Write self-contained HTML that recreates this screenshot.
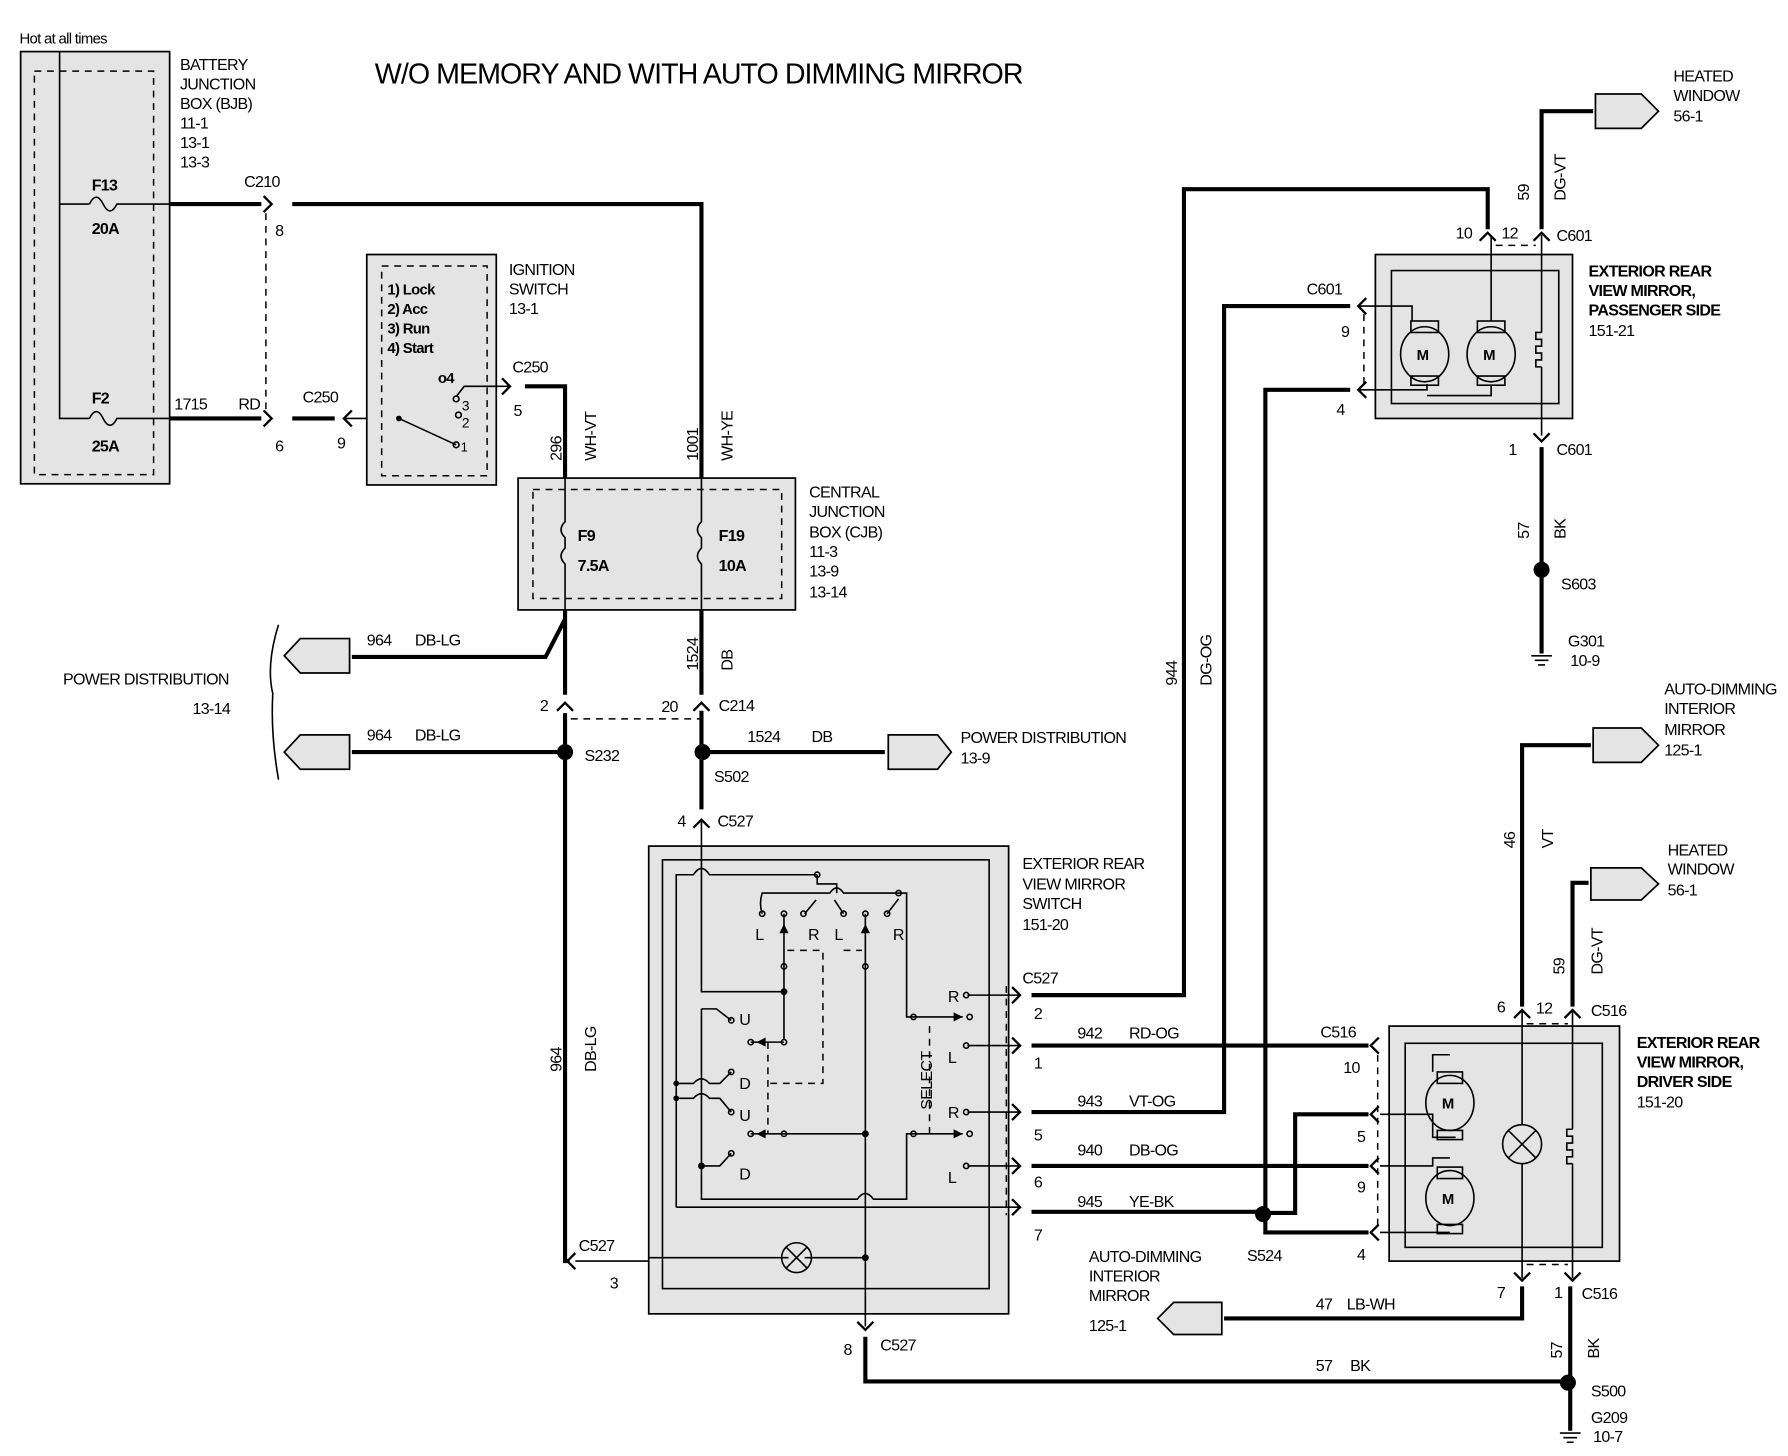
<!DOCTYPE html>
<html><head><meta charset="utf-8"><style>
html,body{margin:0;padding:0;background:#fff}
svg{display:block}
text{font-family:"Liberation Sans Narrow","Liberation Sans",sans-serif;font-size:14px;fill:#000;letter-spacing:-0.6px}
.b{font-weight:bold}
.tk{stroke:#000;stroke-width:3.6;fill:none}
.tn{stroke:#000;stroke-width:1.4;fill:none}
.ds{stroke:#000;stroke-width:1.3;fill:none;stroke-dasharray:6 5}
.gb{fill:#e4e4e4;stroke:#000;stroke-width:1.5}
.ar{stroke:#000;stroke-width:2;fill:none}
</style></head><body>
<svg width="1788" height="1456" viewBox="0 0 1560 1270" preserveAspectRatio="none" xmlns="http://www.w3.org/2000/svg">
<rect width="1560" height="1270" fill="#fff"/>
<text x="17" y="38" style="font-size:13px">Hot at all times</text>
<text x="327" y="73" style="font-size:25px;letter-spacing:0" textLength="566">W/O MEMORY AND WITH AUTO DIMMING MIRROR</text>

<!-- BJB -->
<rect class="gb" x="18" y="45" width="130" height="377"/>
<rect class="ds" x="30" y="62" width="104" height="352"/>
<path class="tn" d="M52 45 V365 H78 M52 178 H78"/>
<path class="tn" d="M78 178 q6 -12 12 0 q6 12 12 0 H148 M78 365 q6 -12 12 0 q6 12 12 0 H148"/>
<text x="80" y="166" class="b">F13</text><text x="80" y="204" class="b">20A</text>
<text x="80" y="352" class="b">F2</text><text x="80" y="394" class="b">25A</text>
<text x="157" y="61">BATTERY</text><text x="157" y="78">JUNCTION</text><text x="157" y="95">BOX (BJB)</text>
<text x="157" y="112">11-1</text><text x="157" y="129">13-1</text><text x="157" y="146">13-3</text>

<!-- F13 wire -->
<path class="tk" d="M148 178 H228 M255 178 H612 V417"/>
<path class="ar" d="M230 171 L237 178 L230 185"/>
<text x="213" y="163">C210</text><text x="240" y="206">8</text>
<path class="ds" d="M232 186 V358"/>
<!-- F2 wire -->
<path class="tk" d="M148 365 H228 M255 365 H292"/>
<path class="ar" d="M230 358 L237 365 L230 372 M307 358 L300 365 L307 372"/>
<path class="tn" d="M300 365 H348"/>
<text x="152" y="357">1715</text><text x="208" y="357">RD</text><text x="240" y="394">6</text>
<text x="264" y="351">C250</text><text x="294" y="391">9</text>

<!-- Ignition switch -->
<rect class="gb" x="320" y="222" width="113" height="201"/>
<rect class="ds" x="333" y="232" width="92" height="183"/>
<text x="338" y="257" class="b" style="font-size:13px">1) Lock</text>
<text x="338" y="274" class="b" style="font-size:13px">2) Acc</text>
<text x="338" y="291" class="b" style="font-size:13px">3) Run</text>
<text x="338" y="308" class="b" style="font-size:13px">4) Start</text>
<text x="382" y="334" class="b" style="font-size:13px">o4</text>
<circle cx="348" cy="365" r="2.5" fill="#000"/>
<path class="tn" d="M348 365 L398 388"/>
<circle cx="398" cy="348" r="2.5" class="tn"/><circle cx="400" cy="362" r="2.5" class="tn"/><circle cx="398" cy="388" r="2.5" class="tn"/>
<path class="tn" d="M398 346 L405 337 H445"/>
<text x="403" y="373" style="font-size:12px">2</text><text x="403" y="358" style="font-size:12px">3</text><text x="402" y="394" style="font-size:11px">1</text>
<path class="ar" d="M438 330 L445 337 L438 344"/>
<path class="tk" d="M458 337 H493 V417"/>
<text x="444" y="240">IGNITION</text><text x="444" y="257">SWITCH</text><text x="444" y="274">13-1</text>
<text x="447" y="325">C250</text><text x="448" y="363">5</text>
<text transform="translate(490,402) rotate(-90)">296</text>
<text transform="translate(520,402) rotate(-90)">WH-VT</text>
<text transform="translate(609,402) rotate(-90)">1001</text>
<text transform="translate(639,402) rotate(-90)">WH-YE</text>

<!-- CJB -->
<rect class="gb" x="452" y="417" width="242" height="115"/>
<rect class="ds" x="465" y="427" width="217" height="95"/>
<path class="tn" d="M493 417 V455 q-7 7 0 14 V478 q-7 7 0 14 V532 M612 417 V455 q-7 7 0 14 V478 q-7 7 0 14 V532"/>
<text x="504" y="472" class="b">F9</text><text x="504" y="498" class="b">7.5A</text>
<text x="627" y="472" class="b">F19</text><text x="627" y="498" class="b">10A</text>
<text x="706" y="434">CENTRAL</text><text x="706" y="451">JUNCTION</text><text x="706" y="469">BOX (CJB)</text>
<text x="706" y="486">11-3</text><text x="706" y="503">13-9</text><text x="706" y="521">13-14</text>

<!-- below CJB -->
<path class="tk" d="M493 532 V606 M493 540 L476 573 H307"/>
<path class="tn" d="M305 573 H298"/>
<polygon class="gb" points="248,572 262,557 305,557 305,587 262,587"/>
<text x="320" y="563">964</text><text x="362" y="563">DB-LG</text>
<polygon class="gb" points="248,656 262,641 305,641 305,671 262,671"/>
<text x="320" y="646">964</text><text x="362" y="646">DB-LG</text>
<text x="55" y="597">POWER DISTRIBUTION</text><text x="168" y="623">13-14</text>
<path class="tn" d="M243 545 Q232 580 238 605 Q236 640 243 680"/>
<path class="ar" d="M486 620 L493 613 L500 620 M605 620 L612 613 L619 620"/>
<path class="ds" d="M498 627 H612"/>
<text x="471" y="620">2</text><text x="577" y="621">20</text><text x="627" y="620">C214</text>
<path class="tk" d="M493 622 V1100 H497 M307 656 H493"/>
<circle cx="493" cy="656" r="7" fill="#000"/>
<text x="510" y="664">S232</text>
<text transform="translate(490,935) rotate(-90)">964</text>
<text transform="translate(520,935) rotate(-90)">DB-LG</text>
<path class="tk" d="M612 532 V606 M612 620 V706 M612 656 H772"/>
<circle cx="613" cy="656" r="7" fill="#000"/>
<polygon class="gb" points="775,641 818,641 830,656 818,671 775,671"/>
<text x="652" y="647">1524</text><text x="708" y="647">DB</text><text x="623" y="682">S502</text>
<text transform="translate(609,585) rotate(-90)">1524</text>
<text transform="translate(639,585) rotate(-90)">DB</text>
<text x="838" y="648">POWER DISTRIBUTION</text><text x="838" y="666">13-9</text>
<path class="ar" d="M605 722 L612 715 L619 722"/>
<text x="591" y="721">4</text><text x="626" y="721">C527</text>

<!-- Mirror switch -->
<rect class="gb" x="566" y="738" width="314" height="408"/>
<rect class="tn" x="578" y="750" width="285" height="374"/>
<text x="892" y="758">EXTERIOR REAR</text><text x="892" y="776">VIEW MIRROR</text><text x="892" y="793">SWITCH</text><text x="892" y="811">151-20</text>
<g class="tn">
<path d="M612 715 V865 H684"/>
<path d="M590 1053 V763 H605 Q612 752 619 763 H713"/>
<path d="M713 763 V771 H730 V779 M665 797 Q662 788 665 779 H724 Q730 770 736 779 H791 V887 H797"/>
<path d="M612 880 V1046 H748 Q755 1036 762 1046 H791 V989 H797"/>
<path d="M684 797 V907"/>
<path d="M755 797 V1157"/>
<path d="M655 909 H684 M655 989 H755"/>
<path d="M612 880 H625 L638 890"/>
<path d="M590 945 H605 Q612 937 619 945 H628 L638 935"/>
<path d="M590 958 H605 Q612 950 619 958 H628 L638 970"/>
<path d="M612 1017 H628 L638 1006"/>
<path d="M702 797 L712 785 M736 797 L728 785 M774 797 L784 784"/>
<path d="M797 887 H840 M797 989 H840"/>
<path d="M844 868 H890 M844 912 H890 M844 970 H890 M844 1017 H890 M590 1053 H890"/>
<path d="M566 1097 H688 M702 1097 H755"/>
<circle cx="695" cy="1097" r="13"/>
<path d="M686 1088 L704 1106 M704 1088 L686 1106"/>
<circle cx="665" cy="797" r="2.3"/><circle cx="684" cy="797" r="2.3"/><circle cx="701" cy="797" r="2.3"/>
<circle cx="736" cy="797" r="2.3"/><circle cx="755" cy="797" r="2.3"/><circle cx="774" cy="797" r="2.3"/>
<circle cx="713" cy="763" r="2.3"/><circle cx="784" cy="779" r="2.3"/>
<circle cx="684" cy="843" r="2.3"/><circle cx="755" cy="843" r="2.3"/><circle cx="684" cy="909" r="2.3"/><circle cx="684" cy="989" r="2.3"/>
<circle cx="638" cy="890" r="2.3"/><circle cx="638" cy="935" r="2.3"/><circle cx="638" cy="970" r="2.3"/><circle cx="638" cy="1006" r="2.3"/>
<circle cx="797" cy="887" r="2.3"/><circle cx="797" cy="989" r="2.3"/>
<circle cx="843" cy="868" r="2.3"/><circle cx="843" cy="912" r="2.3"/><circle cx="843" cy="970" r="2.3"/><circle cx="843" cy="1017" r="2.3"/>
<circle cx="846" cy="887" r="2.3"/><circle cx="846" cy="989" r="2.3"/>
<circle cx="655" cy="909" r="2.3"/><circle cx="655" cy="989" r="2.3"/>
</g>
<g fill="#000">
<circle cx="684" cy="865" r="3"/><circle cx="755" cy="989" r="3"/><circle cx="755" cy="1097" r="3"/>
<circle cx="590" cy="945" r="2.5"/><circle cx="590" cy="958" r="2.5"/><circle cx="612" cy="1017" r="3"/>
<polygon points="684,806 680,814 688,814"/><polygon points="755,806 751,814 759,814"/>
<polygon points="832,883 840,887 832,891"/><polygon points="832,985 840,989 832,993"/>
<polygon points="668,905 660,909 668,913"/><polygon points="668,985 660,989 668,993"/>
</g>
<path class="ds" d="M687 829 H718 V945 H670 M670 909 V989 M736 829 H752 M811 895 V989 M878 860 V1060"/>
<text x="659" y="820">L</text><text x="705" y="820">R</text><text x="728" y="820">L</text><text x="779" y="820">R</text>
<text x="645" y="894">U</text><text x="645" y="950">D</text><text x="645" y="978">U</text><text x="645" y="1029">D</text>
<text x="827" y="874">R</text><text x="827" y="927">L</text><text x="827" y="975">R</text><text x="827" y="1032">L</text>
<text transform="translate(813,968) rotate(-90)">SELECT</text>
<path class="ar" d="M883 861 L890 868 L883 875 M883 905 L890 912 L883 919 M883 963 L890 970 L883 977 M883 1010 L890 1017 L883 1024 M883 1046 L890 1053 L883 1060"/>
<text x="892" y="858">C527</text><text x="902" y="889">2</text><text x="902" y="932">1</text><text x="902" y="995">5</text><text x="902" y="1036">6</text><text x="902" y="1082">7</text>
<path class="ar" d="M502 1093 L495 1100 L502 1107"/>
<path class="tn" d="M502 1100 H566"/>
<text x="505" y="1091">C527</text><text x="532" y="1124">3</text>
<path class="ar" d="M748 1153 L755 1160 L762 1153"/>
<path class="tk" d="M755 1166 V1205 H1368"/>
<text x="736" y="1182">8</text><text x="768" y="1178">C527</text>
<text x="1148" y="1196">57</text><text x="1178" y="1196">BK</text>

<!-- wires to mirrors -->
<path class="tk" d="M900 868 H1033 V165 H1298 V200"/>
<text transform="translate(1027,598) rotate(-90)">944</text>
<text transform="translate(1057,598) rotate(-90)">DG-OG</text>
<path class="tk" d="M900 912 H1194"/>
<text x="940" y="906">942</text><text x="985" y="906">RD-OG</text>
<text x="1152" y="905">C516</text><text x="1172" y="936">10</text>
<path class="tk" d="M900 970 H1068 V267 H1178"/>
<text x="940" y="965">943</text><text x="985" y="965">VT-OG</text>
<path class="tk" d="M900 1017 H1194"/>
<text x="940" y="1008">940</text><text x="985" y="1008">DB-OG</text>
<path class="tk" d="M900 1057 H1100 M1104 1058 V340 H1178 M1104 1058 H1130 V972 H1194 M1104 1058 V1075 H1194"/>
<circle cx="1102" cy="1059" r="7" fill="#000"/>
<text x="940" y="1053">945</text><text x="985" y="1053">YE-BK</text><text x="1088" y="1100">S524</text>
<text x="1184" y="996">5</text><text x="1184" y="1040">9</text><text x="1184" y="1099">4</text>

<!-- Passenger mirror -->
<rect class="gb" x="1200" y="222" width="172" height="143"/>
<rect class="tn" x="1214" y="236" width="146" height="116" fill="#ddd"/>
<path class="ar" d="M1192 260 L1185 267 L1192 274 M1192 333 L1185 340 L1192 347"/>
<path class="tn" d="M1185 267 H1232 V280 M1185 340 H1245 V335"/>
<path class="ds" d="M1190 274 V338"/>
<g class="tn" fill="#ddd">
<rect x="1231" y="280" width="24" height="10"/><rect x="1231" y="328" width="24" height="8"/>
<ellipse cx="1243" cy="309" rx="21" ry="24"/>
<rect x="1289" y="280" width="24" height="10"/><rect x="1289" y="328" width="24" height="8"/>
<ellipse cx="1301" cy="309" rx="21" ry="24"/>
</g>
<path class="tn" d="M1301 205 V280 M1301 336 V345 H1245 M1345 205 V290 M1345 320 V380"/>
<path class="tn" d="M1345 290 h-5 v6 h5 v6 h-5 v6 h5 v6 h-5 v6 h5"/>
<text x="1236" y="314" class="b" style="font-size:13px">M</text><text x="1294" y="314" class="b" style="font-size:13px">M</text>
<path class="ar" d="M1291 210 L1298 203 L1305 210 M1338 210 L1345 203 L1352 210 M1338 378 L1345 385 L1352 378"/>
<path class="ds" d="M1305 214 H1340"/>
<path class="tk" d="M1345 200 V97 H1390 M1345 390 V570"/>
<polygon class="gb" points="1392,82 1432,82 1447,97 1432,112 1392,112"/>
<circle cx="1345" cy="497" r="7" fill="#000"/>
<path class="tn" d="M1336 572 H1354 M1339 576 H1351 M1342 580 H1348"/>
<text x="1270" y="208">10</text><text x="1310" y="208">12</text><text x="1358" y="210">C601</text>
<text x="1140" y="257">C601</text><text x="1170" y="294">9</text><text x="1166" y="362">4</text>
<text x="1316" y="397">1</text><text x="1358" y="397">C601</text>
<text transform="translate(1334,175) rotate(-90)">59</text>
<text transform="translate(1366,175) rotate(-90)">DG-VT</text>
<text transform="translate(1334,470) rotate(-90)">57</text>
<text transform="translate(1366,470) rotate(-90)">BK</text>
<text x="1362" y="514">S603</text><text x="1368" y="564">G301</text><text x="1370" y="581">10-9</text>
<text x="1460" y="71">HEATED</text><text x="1460" y="88">WINDOW</text><text x="1460" y="106">56-1</text>
<text x="1386" y="241" class="b">EXTERIOR REAR</text><text x="1386" y="258" class="b">VIEW MIRROR,</text>
<text x="1386" y="275" class="b">PASSENGER SIDE</text><text x="1386" y="293">151-21</text>

<!-- Driver mirror -->
<rect class="gb" x="1212" y="895" width="201" height="205"/>
<rect class="tn" x="1226" y="910" width="172" height="178" fill="#ddd"/>
<path class="ar" d="M1203 905 L1196 912 L1203 919 M1203 965 L1196 972 L1203 979 M1203 1010 L1196 1017 L1203 1024 M1203 1068 L1196 1075 L1203 1082"/>
<path class="ds" d="M1202 920 V1070"/>
<g class="tn" fill="#ddd">
<rect x="1254" y="935" width="22" height="10"/><rect x="1254" y="986" width="22" height="8"/>
<ellipse cx="1265" cy="962" rx="21" ry="24"/>
<rect x="1254" y="1018" width="22" height="10"/><rect x="1254" y="1068" width="22" height="8"/>
<ellipse cx="1265" cy="1045" rx="21" ry="24"/>
<circle cx="1328" cy="998" r="17"/>
</g>
<path class="tn" d="M1204 972 H1250 V992 H1270 M1204 1017 H1250 V1010 H1265 M1204 1075 H1265 M1265 920 H1250 V935"/>
<path class="tn" d="M1316 986 L1340 1010 M1340 986 L1316 1010 M1328 880 V981 M1328 1015 V1115 M1372 880 V985 M1372 1015 V1115"/>
<path class="tn" d="M1372 985 h-5 v6 h5 v6 h-5 v6 h5 v6 h-5 v6 h5"/>
<text x="1258" y="967" class="b" style="font-size:13px">M</text><text x="1258" y="1050" class="b" style="font-size:13px">M</text>
<path class="ar" d="M1321 888 L1328 881 L1335 888 M1365 888 L1372 881 L1379 888 M1321 1110 L1328 1117 L1335 1110 M1365 1110 L1372 1117 L1379 1110"/>
<path class="ds" d="M1332 893 H1368 M1332 1103 H1368"/>
<path class="tk" d="M1328 878 V650 H1388 M1372 878 V770 H1386 M1328 1122 V1150 H1068 M1370 1122 V1248"/>
<polygon class="gb" points="1390,635 1432,635 1447,650 1432,665 1390,665"/>
<polygon class="gb" points="1388,757 1432,757 1447,771 1432,785 1388,785"/>
<polygon class="gb" points="1010,1150 1024,1136 1066,1136 1066,1164 1024,1164"/>
<circle cx="1368" cy="1206" r="7" fill="#000"/>
<path class="tn" d="M1361 1250 H1379 M1364 1254 H1376 M1367 1258 H1373"/>
<text x="1306" y="883">6</text><text x="1340" y="884">12</text><text x="1388" y="886">C516</text>
<text x="1306" y="1132">7</text><text x="1356" y="1132">1</text><text x="1380" y="1133">C516</text>
<text transform="translate(1322,740) rotate(-90)">46</text>
<text transform="translate(1355,740) rotate(-90)">VT</text>
<text transform="translate(1365,850) rotate(-90)">59</text>
<text transform="translate(1398,850) rotate(-90)">DG-VT</text>
<text transform="translate(1363,1185) rotate(-90)">57</text>
<text transform="translate(1395,1185) rotate(-90)">BK</text>
<text x="1148" y="1142">47</text><text x="1175" y="1142">LB-WH</text>
<text x="1388" y="1218">S500</text><text x="1388" y="1241">G209</text><text x="1390" y="1258">10-7</text>
<text x="1452" y="606">AUTO-DIMMING</text><text x="1452" y="623">INTERIOR</text><text x="1452" y="641">MIRROR</text><text x="1452" y="659">125-1</text>
<text x="1455" y="746">HEATED</text><text x="1455" y="763">WINDOW</text><text x="1455" y="781">56-1</text>
<text x="950" y="1101">AUTO-DIMMING</text><text x="950" y="1118">INTERIOR</text><text x="950" y="1135">MIRROR</text><text x="950" y="1161">125-1</text>
<text x="1428" y="914" class="b">EXTERIOR REAR</text><text x="1428" y="931" class="b">VIEW MIRROR,</text>
<text x="1428" y="948" class="b">DRIVER SIDE</text><text x="1428" y="966">151-20</text>
</svg>
</body></html>
